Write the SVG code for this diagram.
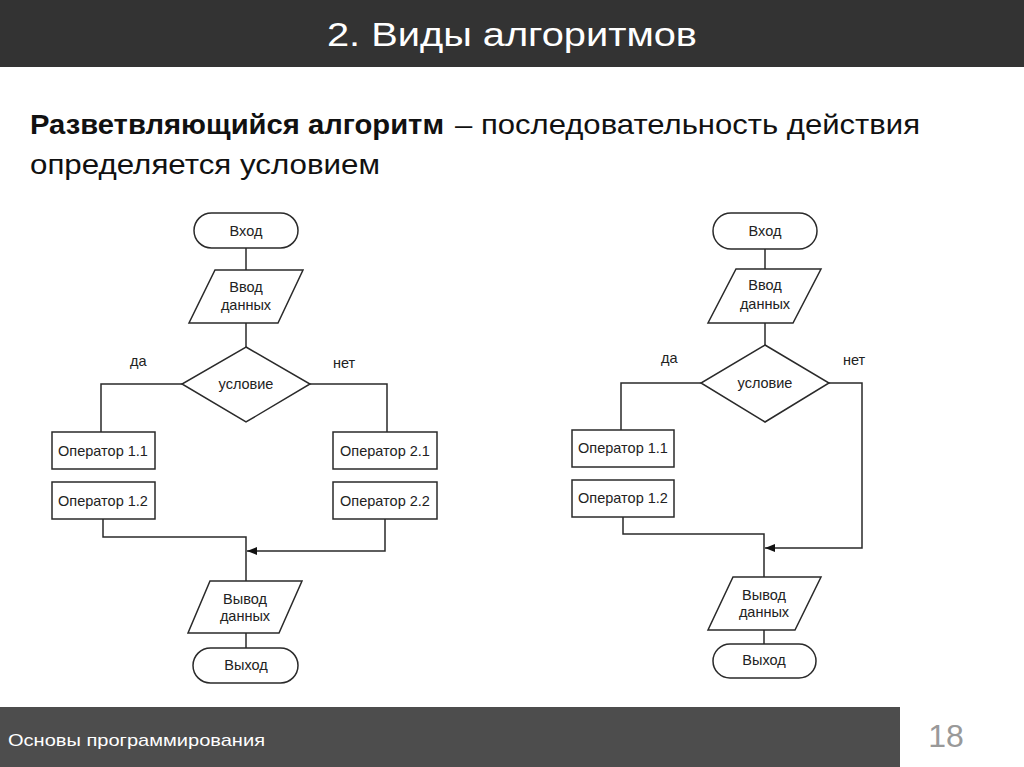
<svg xmlns="http://www.w3.org/2000/svg" width="1024" height="767" viewBox="0 0 1024 767">
<defs>
<style>
.s{fill:#fff;stroke:#2a2a2a;stroke-width:1.5}
.c{fill:none;stroke:#2a2a2a;stroke-width:1.5}
.t{font-family:"Liberation Sans",Arial,sans-serif;font-size:14.5px;fill:#222;text-anchor:middle}
.l{font-family:"Liberation Sans",Arial,sans-serif;font-size:14.5px;fill:#222}
.b{font-family:"Liberation Sans",Arial,sans-serif;font-size:28px;fill:#111}
</style>
<marker id="ah" markerWidth="10" markerHeight="8" refX="10" refY="4" orient="auto" markerUnits="userSpaceOnUse">
<path d="M0,0 L10,4 L0,8 Z" fill="#111"/>
</marker>
</defs>
<rect width="1024" height="767" fill="#fff"/>
<rect x="0" y="0" width="1024" height="67" fill="#333"/>
<text x="512" y="46" font-family="Liberation Sans,Arial,sans-serif" font-size="34" fill="#fff" text-anchor="middle" textLength="370" lengthAdjust="spacingAndGlyphs">2. Виды алгоритмов</text>
<text class="b" x="30" y="134" font-weight="bold" textLength="414" lengthAdjust="spacingAndGlyphs">Разветвляющийся алгоритм</text>
<text class="b" x="455" y="134" textLength="465" lengthAdjust="spacingAndGlyphs">– последовательность действия</text>
<text class="b" x="30" y="174" textLength="350" lengthAdjust="spacingAndGlyphs">определяется условием</text>

<rect x="0" y="707" width="900" height="60" fill="#4d4d4d"/>
<text x="8" y="746" font-family="Liberation Sans,Arial,sans-serif" font-size="17" fill="#fff" textLength="257" lengthAdjust="spacingAndGlyphs">Основы программирования</text>
<text x="946" y="747" font-family="Liberation Sans,Arial,sans-serif" font-size="32" fill="#999" text-anchor="middle">18</text>

<g id="connectors">
<path class="c" d="M246,248 V270"/>
<path class="c" d="M246,323 V347"/>
<path class="c" d="M182,384 H101 V432"/>
<path class="c" d="M310,384 H387 V432"/>
<path class="c" d="M103,519 V537 H246 V581"/>
<path class="c" d="M385,519 V551 H247" marker-end="url(#ah)"/>
<path class="c" d="M246,633 V648"/>
<path class="c" d="M765,249 V269"/>
<path class="c" d="M765,323 V345"/>
<path class="c" d="M701,383 H621 V430"/>
<path class="c" d="M829,383 H862 V548 H765" marker-end="url(#ah)"/>
<path class="c" d="M623,517 V534 H764 V577"/>
<path class="c" d="M764,630 V644"/>
</g>

<g id="l-start"><rect class="s" x="194" y="213" width="104" height="35" rx="17.5"/><text class="t" x="246" y="236">Вход</text></g>
<g id="l-input"><polygon class="s" points="215,270 303,270 278,323 189,323"/><text class="t" x="246" y="292">Ввод</text><text class="t" x="246" y="310">данных</text></g>
<g id="l-cond"><polygon class="s" points="246,347 310,384 246,422 182,384"/><text class="t" x="246" y="389">условие</text></g>
<text class="l" x="130" y="366">да</text>
<text class="l" x="333" y="368">нет</text>
<g id="l-op11"><rect class="s" x="52" y="432" width="103" height="37"/><text class="t" x="103" y="456">Оператор 1.1</text></g>
<g id="l-op12"><rect class="s" x="52" y="482" width="103" height="37"/><text class="t" x="103" y="506">Оператор 1.2</text></g>
<g id="l-op21"><rect class="s" x="333" y="432" width="104" height="37"/><text class="t" x="385" y="456">Оператор 2.1</text></g>
<g id="l-op22"><rect class="s" x="333" y="482" width="104" height="37"/><text class="t" x="385" y="506">Оператор 2.2</text></g>
<g id="l-output"><polygon class="s" points="210,581 302,581 279,633 188,633"/><text class="t" x="245" y="604">Вывод</text><text class="t" x="245" y="621">данных</text></g>
<g id="l-end"><rect class="s" x="193" y="648" width="105" height="35" rx="17.5"/><text class="t" x="246" y="670">Выход</text></g>

<g id="r-start"><rect class="s" x="713" y="213" width="104" height="36" rx="18"/><text class="t" x="765" y="236">Вход</text></g>
<g id="r-input"><polygon class="s" points="736,269 821,269 793,323 708,323"/><text class="t" x="765" y="290">Ввод</text><text class="t" x="765" y="309">данных</text></g>
<g id="r-cond"><polygon class="s" points="765,345 829,383 765,422 701,383"/><text class="t" x="765" y="388">условие</text></g>
<text class="l" x="661" y="363">да</text>
<text class="l" x="843" y="365">нет</text>
<g id="r-op11"><rect class="s" x="572" y="430" width="102" height="37"/><text class="t" x="623" y="453">Оператор 1.1</text></g>
<g id="r-op12"><rect class="s" x="572" y="480" width="102" height="37"/><text class="t" x="623" y="503">Оператор 1.2</text></g>
<g id="r-output"><polygon class="s" points="733,577 821,577 795,630 708,630"/><text class="t" x="764" y="600">Вывод</text><text class="t" x="764" y="617">данных</text></g>
<g id="r-end"><rect class="s" x="713" y="644" width="103" height="34" rx="17"/><text class="t" x="764" y="665">Выход</text></g>
</svg>
